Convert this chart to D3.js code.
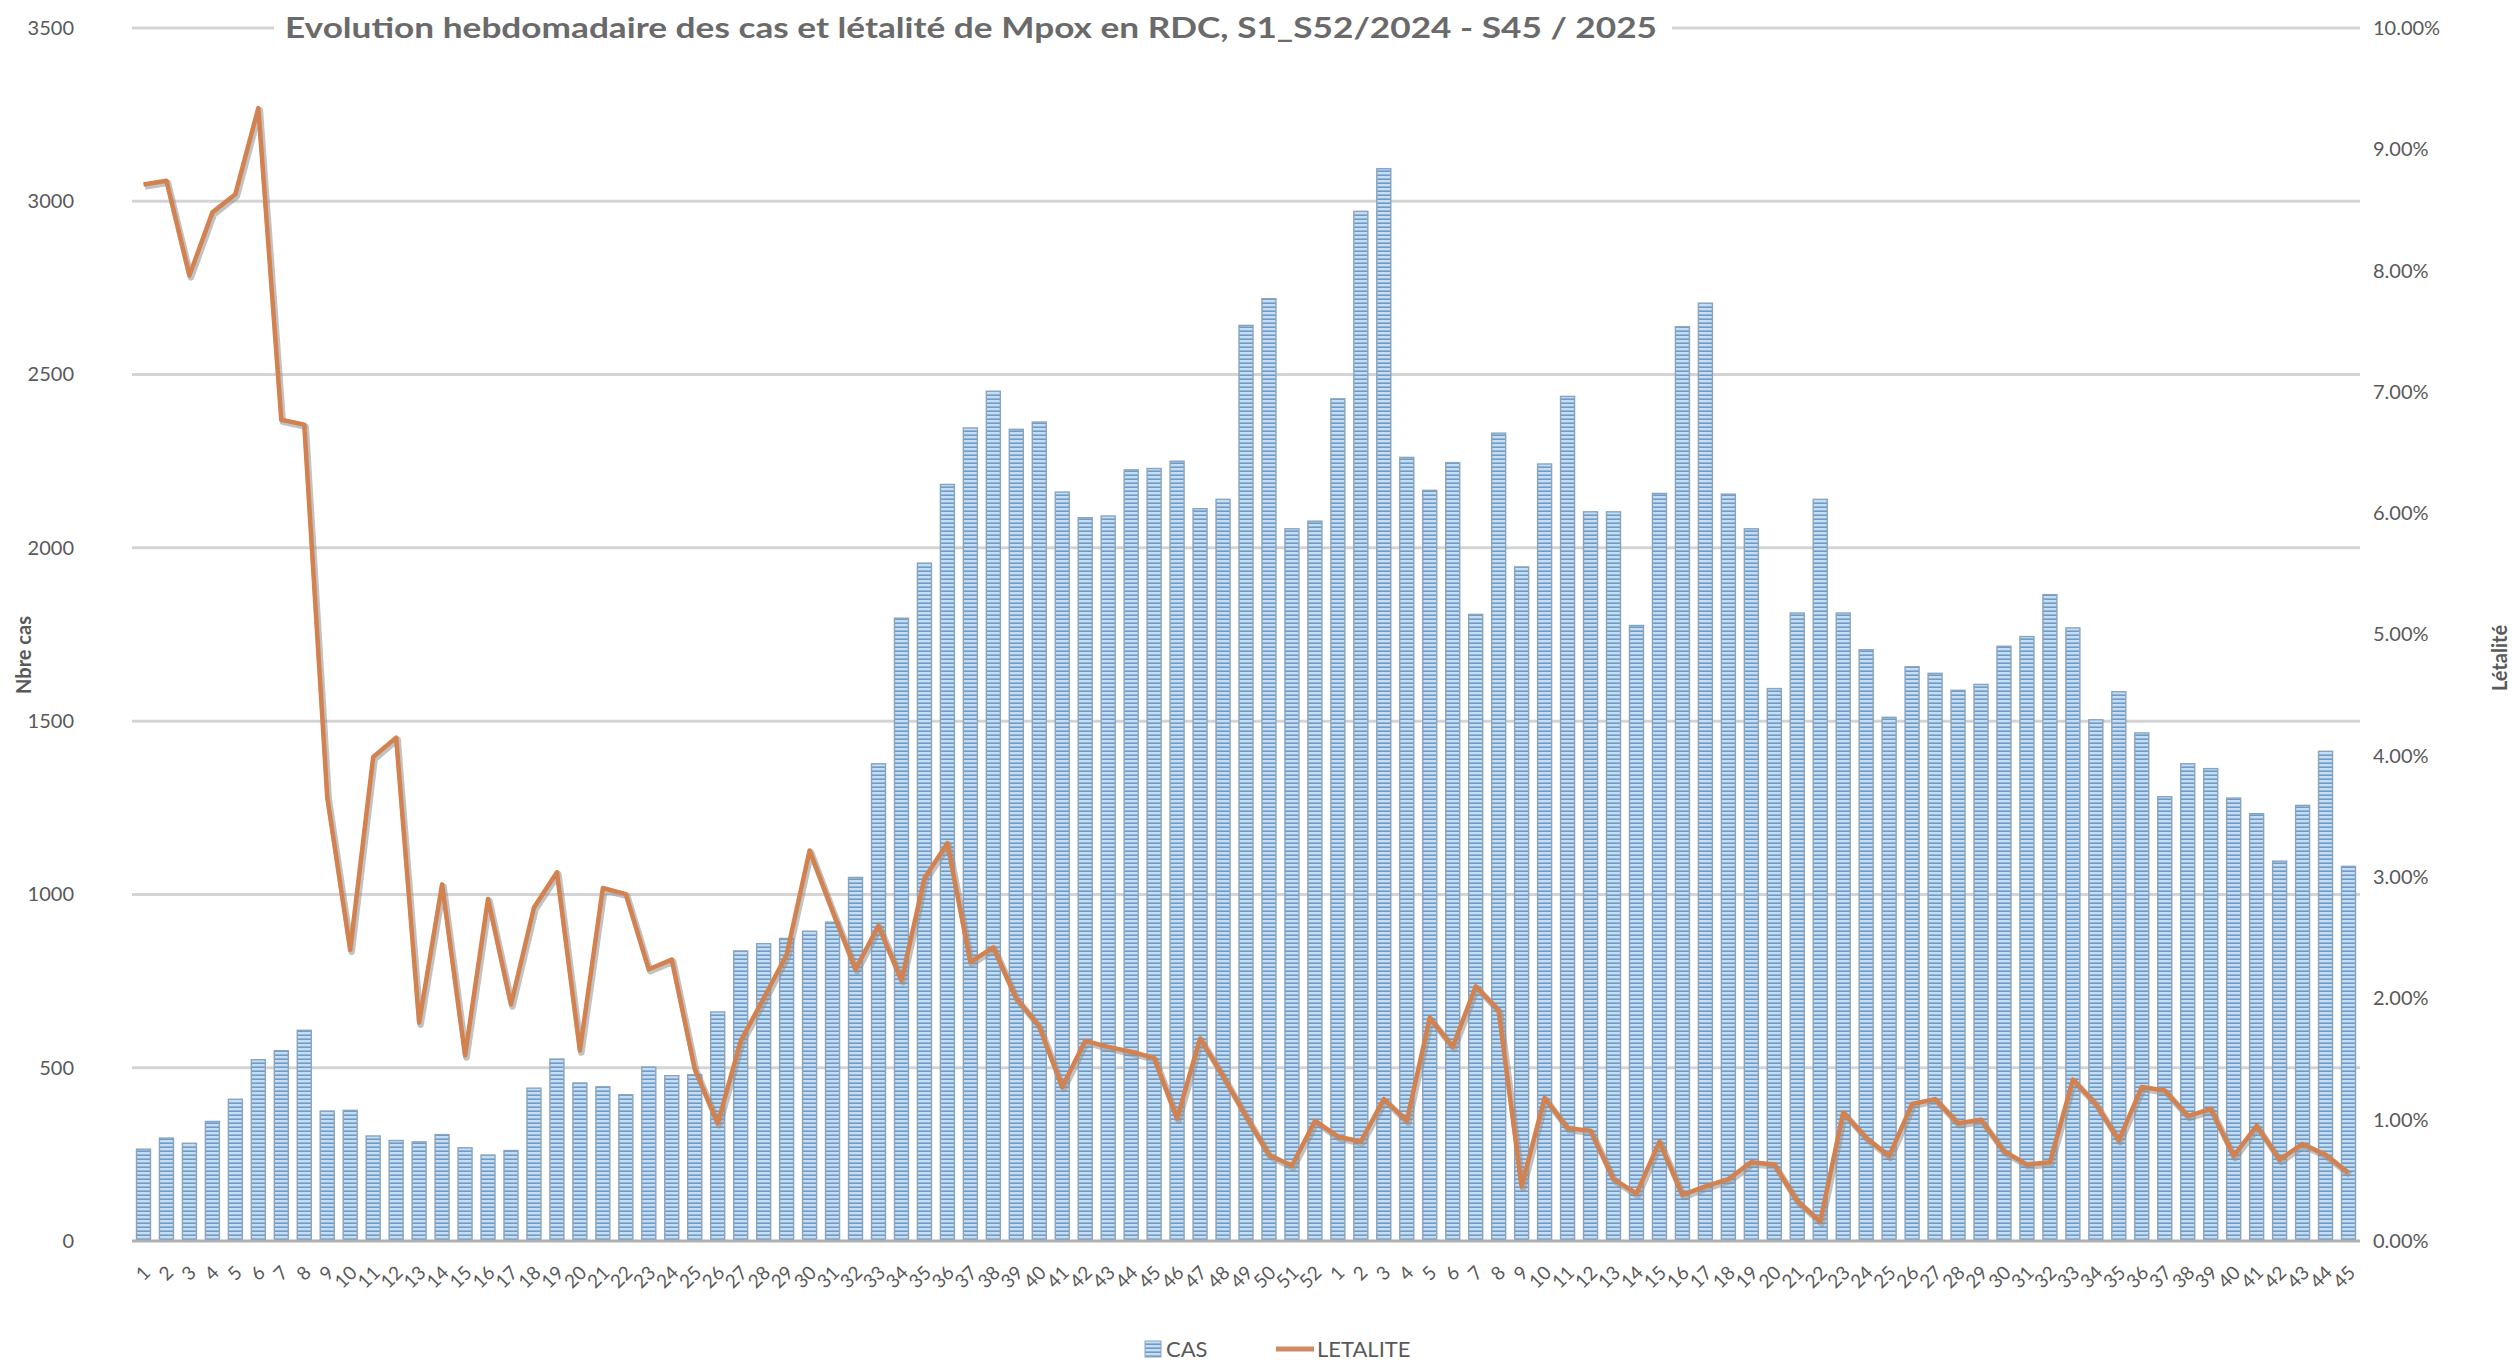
<!DOCTYPE html>
<html>
<head>
<meta charset="utf-8">
<script src="https://cdn.jsdelivr.net/npm/d3@7"></script>
<style>
  body { margin: 0; background: #fff; }
  #chart { width: 2517px; height: 1365px; }
  text { font-family: Lato, "Open Sans", sans-serif; fill: #595959; }
</style>
</head>
<body>
<div id="chart"></div>
<script>
// weeks S1..S52 of 2024, then S1..S45 of 2025
const weeks2024 = [1,2,3,4,5,6,7,8,9,10,11,12,13,14,15,16,17,18,19,20,21,22,23,24,25,26,
  27,28,29,30,31,32,33,34,35,36,37,38,39,40,41,42,43,44,45,46,47,48,49,50,51,52];
const weeks2025 = [1,2,3,4,5,6,7,8,9,10,11,12,13,14,15,16,17,18,19,20,21,22,23,24,25,26,
  27,28,29,30,31,32,33,34,35,36,37,38,39,40,41,42,43,44,45];
const weekLabels = weeks2024.concat(weeks2025);

const cas = [265,297,282,345,409,523,549,608,375,377,303,290,286,307,269,248,261,441,525,456,
  445,422,502,477,480,661,837,858,873,894,920,1049,1377,1797,1956,2183,2346,2452,2342,2363,
  2161,2087,2092,2225,2229,2250,2113,2140,2642,2719,2055,2077,2430,2971,3094,2261,2166,2246,1808,2331,
  1945,2242,2437,2104,2104,1776,2157,2638,2706,2155,2055,1594,1812,2140,1812,1706,1511,1657,1638,1589,
  1606,1716,1744,1865,1769,1504,1585,1466,1282,1377,1363,1278,1233,1096,1257,1413,1081];

// létalité in %
const letalite = [8.71,8.74,7.96,8.48,8.63,9.34,6.77,6.73,3.66,2.40,3.99,4.15,1.80,2.94,1.53,2.82,1.95,2.75,3.04,1.57,
  2.91,2.86,2.24,2.32,1.42,0.97,1.65,2.00,2.36,3.22,2.72,2.24,2.60,2.15,2.99,3.28,2.30,2.42,2.00,1.77,
  1.27,1.65,1.60,1.56,1.51,1.01,1.67,1.36,1.03,0.71,0.62,0.99,0.86,0.82,1.17,0.99,1.84,1.60,2.10,1.90,
  0.45,1.18,0.93,0.91,0.51,0.39,0.82,0.38,0.45,0.51,0.65,0.63,0.33,0.16,1.06,0.85,0.70,1.13,1.17,0.97,
  1.00,0.74,0.63,0.65,1.33,1.13,0.83,1.27,1.24,1.03,1.09,0.70,0.95,0.67,0.80,0.71,0.56];

const leftTicks = [0,500,1000,1500,2000,2500,3000,3500];
const rightTicks = [0,1,2,3,4,5,6,7,8,9,10];

const title = "Evolution hebdomadaire des cas et létalité de Mpox en RDC, S1_S52/2024 - S45 / 2025";

const width = 2517, height = 1365;
const plot = { left: 132, right: 2360, top: 28, bottom: 1241 };

const svg = d3.select("#chart").append("svg")
    .attr("width", width)
    .attr("height", height);

// bar hatch pattern
const defs = svg.append("defs");
const pat = defs.append("pattern")
    .attr("id", "hatch")
    .attr("patternUnits", "userSpaceOnUse")
    .attr("width", 8).attr("height", 4);
pat.append("rect").attr("width", 8).attr("height", 4).attr("fill", "#c6def3");
pat.append("rect").attr("y", 2.4).attr("width", 8).attr("height", 1.6).attr("fill", "#6f9bc6");

const idx = d3.range(cas.length);

const x = d3.scaleBand()
    .domain(idx)
    .range([plot.left, plot.right])
    .paddingInner(0.39)
    .paddingOuter(0.195);

const y = d3.scaleLinear().domain([0, 3500]).range([plot.bottom, plot.top]);
const y2 = d3.scaleLinear().domain([0, 10]).range([plot.bottom, plot.top]);

// gridlines
svg.append("g")
    .selectAll("line")
    .data(leftTicks.filter(d => d > 0))
    .enter().append("line")
    .attr("x1", plot.left).attr("x2", plot.right)
    .attr("y1", d => y(d)).attr("y2", d => y(d))
    .attr("stroke", "#d4d4d4")
    .attr("stroke-width", 3);

// bars
svg.append("g")
    .selectAll("rect")
    .data(idx)
    .enter().append("rect")
    .attr("x", i => x(i))
    .attr("y", i => y(cas[i]))
    .attr("width", x.bandwidth())
    .attr("height", i => y(0) - y(cas[i]))
    .attr("fill", "url(#hatch)")
    .attr("stroke", "#8aa4be")
    .attr("stroke-width", 1.4);

// baseline
svg.append("line")
    .attr("x1", plot.left).attr("x2", plot.right)
    .attr("y1", y(0)).attr("y2", y(0))
    .attr("stroke", "#b0b0b0")
    .attr("stroke-width", 3);

// letalite line, with a soft shadow
const line = d3.line()
    .x(i => x(i) + x.bandwidth() / 2)
    .y(i => y2(letalite[i]));

svg.append("path")
    .datum(idx)
    .attr("fill", "none")
    .attr("stroke", "#8f8f8f")
    .attr("stroke-opacity", 0.55)
    .attr("stroke-width", 6.5)
    .attr("stroke-linejoin", "round")
    .attr("transform", "translate(1.5,2)")
    .attr("d", line);

svg.append("path")
    .datum(idx)
    .attr("fill", "none")
    .attr("stroke", "#d3824f")
    .attr("stroke-width", 4.5)
    .attr("stroke-linejoin", "round")
    .attr("d", line);

// left axis
const yAxis = svg.append("g")
    .attr("transform", `translate(${plot.left - 58},0)`)
    .call(d3.axisLeft(y).tickValues(leftTicks).tickSize(0).tickPadding(0)
        .tickFormat(d3.format("d")));
yAxis.select(".domain").remove();
yAxis.selectAll("text").style("font-size", "20px").style("fill", "#595959");

// right axis
const y2Axis = svg.append("g")
    .attr("transform", `translate(${plot.right + 13},0)`)
    .call(d3.axisRight(y2).tickValues(rightTicks).tickSize(0).tickPadding(0)
        .tickFormat(d => d.toFixed(2) + "%"));
y2Axis.select(".domain").remove();
y2Axis.selectAll("text").style("font-size", "20px").style("fill", "#595959");

// x axis: rotated week labels
const xAxis = svg.append("g")
    .attr("transform", `translate(0,${plot.bottom})`)
    .call(d3.axisBottom(x).tickSize(0).tickFormat(i => weekLabels[i]));
xAxis.select(".domain").remove();
xAxis.selectAll("text")
    .attr("y", 0).attr("dy", 0)
    .attr("text-anchor", "end")
    .attr("transform", "translate(8,33) rotate(-45)")
    .style("font-size", "19px")
    .style("fill", "#595959");

// title with white backing over the top gridline
svg.append("rect")
    .attr("x", 274).attr("y", 10)
    .attr("width", 1398).attr("height", 38)
    .attr("fill", "#fff");
svg.append("text")
    .attr("x", 971).attr("y", 38)
    .attr("text-anchor", "middle")
    .attr("textLength", 1372)
    .attr("lengthAdjust", "spacingAndGlyphs")
    .style("font-size", "28px")
    .style("font-weight", "bold")
    .style("fill", "#6a6a6a")
    .text(title);

// axis titles
svg.append("text")
    .attr("transform", "translate(31,655) rotate(-90)")
    .attr("text-anchor", "middle")
    .style("font-size", "20px")
    .style("font-weight", "bold")
    .text("Nbre cas");

svg.append("text")
    .attr("transform", "translate(2507,658) rotate(-90)")
    .attr("text-anchor", "middle")
    .style("font-size", "20px")
    .style("font-weight", "bold")
    .text("Létalité");

// legend
const legend = svg.append("g").attr("transform", "translate(1145,1349)");
legend.append("rect")
    .attr("x", 0).attr("y", -8)
    .attr("width", 16).attr("height", 16)
    .attr("fill", "url(#hatch)")
    .attr("stroke", "#8aa4be");
legend.append("text")
    .attr("x", 21).attr("y", 8)
    .style("font-size", "22px")
    .text("CAS");
legend.append("line")
    .attr("x1", 131).attr("x2", 169)
    .attr("y1", 0).attr("y2", 0)
    .attr("stroke", "#d08a62")
    .attr("stroke-width", 5);
legend.append("text")
    .attr("x", 172).attr("y", 8)
    .style("font-size", "22px")
    .text("LETALITE");
</script>
</body>
</html>
